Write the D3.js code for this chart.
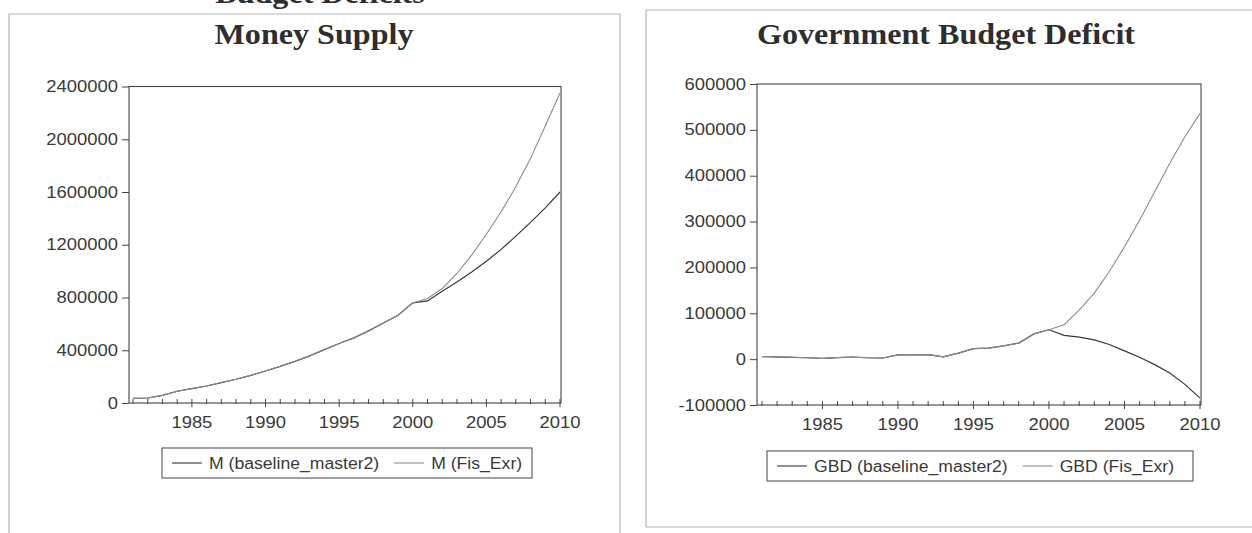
<!DOCTYPE html>
<html>
<head>
<meta charset="utf-8">
<script src="https://cdn.jsdelivr.net/npm/d3@7"></script>
<style>
  html, body { margin: 0; padding: 0; background: #fff; }
  svg { display: block; }
  .tick-label { font-family: "Liberation Sans", Arial, sans-serif; font-size: 16px; fill: #3a3a3a; }
  .title { font-family: "Liberation Serif", "Times New Roman", serif; font-weight: bold; font-size: 30px; fill: #2e2e2e; }
</style>
</head>
<body>
<svg id="chart" width="1252" height="533"></svg>
<script>
// years on the x axis
const years = [1981, 1982, 1983, 1984, 1985, 1986, 1987, 1988, 1989, 1990,
    1991, 1992, 1993, 1994, 1995, 1996, 1997, 1998, 1999, 2000,
    2001, 2002, 2003, 2004, 2005, 2006, 2007, 2008, 2009, 2010];
const yearLabels = [1985, 1990, 1995, 2000, 2005, 2010];

// money supply
const mBaseline = [35000, 38000, 58000, 89000, 109000, 129000, 155000, 180000, 210000, 243000,
    278000, 316000, 357000, 405000, 451000, 494000, 547000, 607000, 666000, 759000,
    774000, 848000, 918000, 994000, 1075000, 1165000, 1265000, 1370000, 1480000, 1600000];
const mFisExr = [35000, 38000, 58000, 89000, 109000, 129000, 155000, 180000, 210000, 243000,
    278000, 316000, 357000, 405000, 451000, 494000, 547000, 607000, 666000, 759000,
    792000, 868000, 982000, 1121000, 1280000, 1450000, 1640000, 1855000, 2100000, 2350000];
const mTicks = [0, 400000, 800000, 1200000, 1600000, 2000000, 2400000];

// government budget deficit
const gbdBaseline = [5700, 5000, 4000, 3000, 1500, 3500, 4500, 3000, 2500, 9400,
    9000, 10000, 5000, 13000, 23000, 24000, 29000, 35000, 55000, 64000,
    52000, 48000, 42000, 32000, 18000, 4000, -12000, -30000, -55000, -85000];
const gbdFisExr = [5700, 5000, 4000, 3000, 1500, 3500, 4500, 3000, 2500, 9400,
    9000, 10000, 5000, 13000, 23000, 24000, 29000, 35000, 55000, 64000,
    75000, 107000, 144000, 191000, 245000, 303000, 365000, 427000, 485000, 536000];
const gbdTicks = [-100000, 0, 100000, 200000, 300000, 400000, 500000, 600000];

const svg = d3.select('#chart');
const fmt = d => String(d); // plain hyphen for negatives, like the original
const lineColors = { base: '#383838', fis: '#8c8c8c' };

// scanned text looks a bit wider than the fonts we have
const stretch = (sel, k) =>
    sel.each(function () {
        const w = this.getComputedTextLength();
        this.__w = w * k;
        d3.select(this).attr('textLength', w * k).attr('lengthAdjust', 'spacingAndGlyphs');
    });

// cut-off heading above the left panel
stretch(svg.append('text').attr('class', 'title')
    .attr('x', 320).attr('y', 3).attr('text-anchor', 'middle')
    .text('Budget Deficits'), 1.07);

const panels = [
    {
        title: 'Money Supply', titleX: 314,
        frame: [9, 14, 620, 560],
        plot: { left: 129, right: 561, top: 86.5, bottom: 403, x0: 133, x1: 560 },
        domain: [0, 2400000], ticks: mTicks,
        base: mBaseline, fis: mFisExr,
        legend: { x: 162, y: 448, w: 370, h: 30, names: ['M (baseline_master2)', 'M (Fis_Exr)'] }
    },
    {
        title: 'Government Budget Deficit', titleX: 946,
        frame: [646, 10, 1270, 527],
        plot: { left: 757, right: 1201, top: 84, bottom: 405, x0: 762, x1: 1200 },
        domain: [-100000, 600000], ticks: gbdTicks,
        base: gbdBaseline, fis: gbdFisExr,
        legend: { x: 767, y: 451, w: 426, h: 30, names: ['GBD (baseline_master2)', 'GBD (Fis_Exr)'] }
    }
];

panels.forEach(p => {
    const g = svg.append('g');
    const [fx0, fy0, fx1, fy1] = p.frame;

    // outer frame (light, scanned look)
    g.append('path')
        .attr('d', `M${fx0},${fy1}V${fy0}H${fx1}V${fy1}H${fx0}`)
        .attr('fill', 'none').attr('stroke', '#b4b4b4').attr('stroke-width', 1.2);

    stretch(g.append('text').attr('class', 'title')
        .attr('x', p.titleX).attr('y', 44).attr('text-anchor', 'middle')
        .text(p.title), 1.07);

    const pl = p.plot;
    const x = d3.scaleLinear().domain([years[0], years[years.length - 1]]).range([pl.x0, pl.x1]);
    const y = d3.scaleLinear().domain(p.domain).range([pl.bottom, pl.top]);

    // plot box
    g.append('rect')
        .attr('x', pl.left).attr('y', pl.top)
        .attr('width', pl.right - pl.left).attr('height', pl.bottom - pl.top)
        .attr('fill', 'none').attr('stroke', '#444').attr('stroke-width', 1.1);

    // y axis ticks and labels
    const yAxis = d3.axisLeft(y).tickValues(p.ticks).tickFormat(fmt).tickSize(7).tickPadding(4);
    const ya = g.append('g').attr('transform', `translate(${pl.left},0)`).call(yAxis);
    ya.select('.domain').remove();
    ya.selectAll('line').attr('stroke', '#444');
    ya.selectAll('text').attr('class', 'tick-label').attr('font-size', null).attr('font-family', null).attr('fill', null);
    stretch(ya.selectAll('text'), 1.15);

    // x axis: yearly minor ticks, labelled major ticks
    const xa = g.append('g').attr('transform', `translate(0,${pl.bottom})`);
    xa.selectAll('line.minor').data(years).join('line')
        .attr('x1', d => x(d)).attr('x2', d => x(d))
        .attr('y1', -4).attr('y2', d => (d % 5 === 0 ? 4 : 1))
        .attr('stroke', '#444').attr('stroke-width', 1);
    stretch(xa.selectAll('text').data(yearLabels).join('text')
        .attr('class', 'tick-label')
        .attr('x', d => x(d)).attr('y', 25).attr('text-anchor', 'middle')
        .text(d => d), 1.15);

    // series
    const line = d3.line().x((d, i) => x(years[i])).y(d => y(d));
    g.append('path').datum(p.base).attr('d', line)
        .attr('fill', 'none').attr('stroke', lineColors.base).attr('stroke-width', 1.2);
    g.append('path').datum(p.fis).attr('d', line)
        .attr('fill', 'none').attr('stroke', lineColors.fis).attr('stroke-width', 1.1);

    // legend
    const lg = p.legend;
    const leg = g.append('g').attr('transform', `translate(${lg.x},${lg.y})`);
    leg.append('rect').attr('width', lg.w).attr('height', lg.h)
        .attr('fill', '#fff').attr('stroke', '#555').attr('stroke-width', 1.1);
    let cx = 10;
    [lineColors.base, lineColors.fis].forEach((c, i) => {
        leg.append('line').attr('x1', cx).attr('x2', cx + 30)
            .attr('y1', lg.h / 2).attr('y2', lg.h / 2)
            .attr('stroke', c).attr('stroke-width', 1.1);
        const t = leg.append('text').attr('class', 'tick-label')
            .attr('x', cx + 37).attr('y', lg.h / 2 + 6).text(lg.names[i]);
        stretch(t, 1.1);
        cx += 37 + t.node().__w + 15;
    });
});
</script>
</body>
</html>
